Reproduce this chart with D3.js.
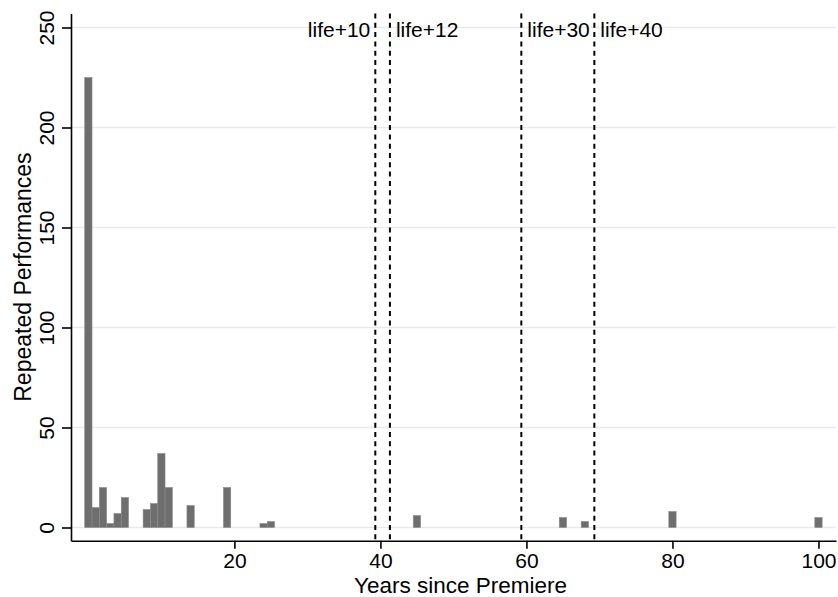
<!DOCTYPE html>
<html lang="en">
<head>
  <meta charset="utf-8">
  <title>Repeated Performances</title>
  <style>
    body { margin: 0; background: #fff; }
    text { font-family: "Liberation Sans", Arial, Helvetica, sans-serif; fill: #000; }
  </style>
</head>
<body>
  <script src="https://cdn.jsdelivr.net/npm/d3@7/dist/d3.min.js"></script>
  <script>
    var width = 838;
    var height = 597;

    // years since premiere and count of repeated performances
    var years = [0, 1, 2, 3, 4, 5, 8, 9, 10, 11, 14, 19, 24, 25, 45, 65, 68, 80, 100];
    var counts = [225, 10, 20, 2, 7, 15, 9, 12, 37, 20, 11, 20, 2, 3, 6, 5, 3, 8, 5];

    // reference lines
    var lineYears = [39.3, 41.3, 59.3, 69.3];
    var lineLabels = ["life+10", "life+12", "life+30", "life+40"];

    var xTicks = [20, 40, 60, 80, 100];
    var yTicks = [0, 50, 100, 150, 200, 250];

    var data = years.map(function(d, i) { return { year: d, n: counts[i] }; });

    var svg = d3.select("body").append("svg")
      .attr("width", width)
      .attr("height", height);

    var xScale = d3.scaleLinear()
      .domain([-2.38, 102.4])
      .range([71, 836]);

    var yScale = d3.scaleLinear()
      .domain([-6.6, 257])
      .range([540.7, 13.5]);

    // gridlines
    svg.selectAll("line.grid")
      .data(yTicks)
      .enter()
      .append("line")
      .attr("class", "grid")
      .attr("x1", 71)
      .attr("x2", 836)
      .attr("y1", function(d) { return yScale(d); })
      .attr("y2", function(d) { return yScale(d); })
      .attr("stroke", "#eaeaea")
      .attr("stroke-width", 1.6);

    // bars
    svg.selectAll("rect")
      .data(data)
      .enter()
      .append("rect")
      .attr("x", function(d) { return xScale(d.year - 0.5); })
      .attr("width", xScale(1) - xScale(0))
      .attr("y", function(d) { return yScale(d.n); })
      .attr("height", function(d) { return yScale(0) - yScale(d.n); })
      .attr("fill", "#6e6e6e")
      .attr("stroke", "#8a8a8a")
      .attr("stroke-width", 0.6);

    // dashed reference lines
    svg.selectAll("line.ref")
      .data(lineYears)
      .enter()
      .append("line")
      .attr("class", "ref")
      .attr("x1", function(d) { return xScale(d); })
      .attr("x2", function(d) { return xScale(d); })
      .attr("y1", 13.5)
      .attr("y2", 540.7)
      .attr("stroke", "#000")
      .attr("stroke-width", 2)
      .attr("stroke-dasharray", "5,4.3");

    svg.selectAll("text.ref")
      .data(lineYears)
      .enter()
      .append("text")
      .attr("class", "ref")
      .attr("x", function(d, i) { return xScale(d) + (i === 0 ? -5 : 6); })
      .attr("y", 37)
      .attr("text-anchor", function(d, i) { return i === 0 ? "end" : "start"; })
      .style("font-size", "21px")
      .text(function(d, i) { return lineLabels[i]; });

    // axes
    var xAxis = d3.axisBottom(xScale)
      .tickValues(xTicks)
      .tickSize(8)
      .tickSizeOuter(0)
      .tickPadding(4);
    var gx = svg.append("g")
      .attr("transform", "translate(0," + 540.7 + ")")
      .call(xAxis);
    gx.select(".domain").attr("stroke-width", 1.6);
    gx.selectAll(".tick line").attr("stroke-width", 1.6);
    gx.selectAll(".tick text").style("font-size", "21px").attr("fill", "#000");

    var yAxis = d3.axisLeft(yScale)
      .tickValues(yTicks)
      .tickSize(9)
      .tickSizeOuter(0);
    var gy = svg.append("g")
      .attr("transform", "translate(" + 71 + ",0)")
      .call(yAxis);
    gy.select(".domain").attr("stroke-width", 1.6);
    gy.selectAll(".tick line").attr("stroke-width", 1.6);
    gy.selectAll(".tick text")
      .style("font-size", "21px")
      .attr("fill", "#000")
      .attr("x", null)
      .attr("dy", null)
      .attr("text-anchor", "middle")
      .attr("transform", "translate(-17,0) rotate(-90)");

    svg.append("text")
      .attr("x", (71 + 836) / 2 + 7)
      .attr("y", 593)
      .attr("text-anchor", "middle")
      .style("font-size", "22.5px")
      .text("Years since Premiere");

    svg.append("text")
      .attr("transform", "translate(31," + ((13.5 + 540.7) / 2) + ") rotate(-90)")
      .attr("text-anchor", "middle")
      .style("font-size", "23px")
      .text("Repeated Performances");
  </script>
</body>
</html>
